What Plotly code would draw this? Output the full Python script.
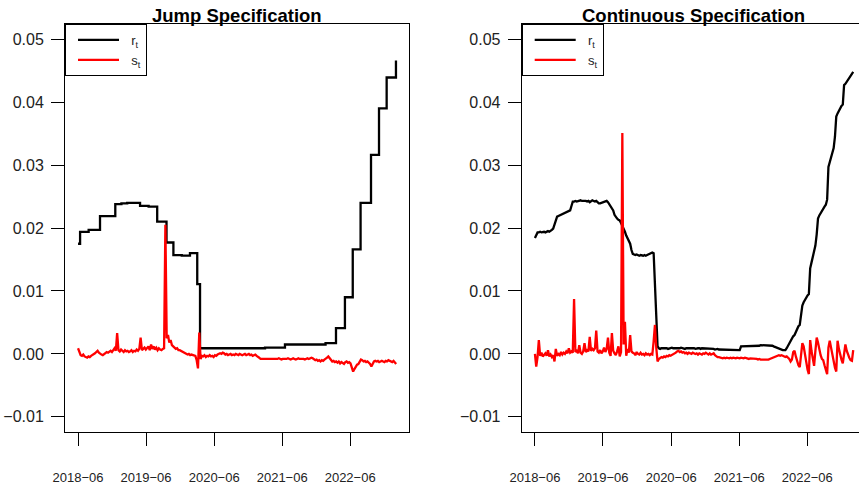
import plotly.graph_objects as go
import pandas as pd

# ---------------- data ----------------
tick_dates = ["2018-06-01", "2019-06-01", "2020-06-01", "2021-06-01", "2022-06-01"]
tick_text = ["2018\u221206", "2019\u221206", "2020\u221206", "2021\u221206", "2022\u221206"]
y_ticks = [-0.01, 0.0, 0.01, 0.02, 0.03, 0.04, 0.05]
y_tick_text = ["\u22120.01", "0.00", "0.01", "0.02", "0.03", "0.04", "0.05"]
series_names = ["r<sub>t</sub>", "s<sub>t</sub>"]

# weekly observation grid (start date, number of weeks)
week_start = "2018-06-01"
n_weeks = 245

# Jump specification: r_t (step function, change dates)
jump_r_dates = ["2018-06-01", "2018-06-12", "2018-07-28", "2018-09-27", "2018-12-18",
                "2019-01-20", "2019-02-20", "2019-03-25", "2019-04-30", "2019-06-15",
                "2019-07-31", "2019-09-19", "2019-10-26", "2019-12-10", "2020-01-23",
                "2020-03-02", "2020-03-17", "2020-09-01", "2021-03-01", "2021-06-16",
                "2021-12-01", "2022-01-20", "2022-03-17", "2022-05-04", "2022-06-15",
                "2022-07-27", "2022-09-21", "2022-11-03", "2022-12-14", "2023-02-02"]
jump_r = [0.0175, 0.0194, 0.0197, 0.0219, 0.0238,
          0.0239, 0.0240, 0.0240, 0.0235, 0.0234,
          0.0210, 0.0177, 0.0157, 0.0156, 0.0160,
          0.0111, 0.0009, 0.0009, 0.0010, 0.0015,
          0.0015, 0.0017, 0.0041, 0.0090, 0.0166,
          0.0240, 0.0316, 0.0390, 0.0439, 0.0466]

# Jump specification: s_t (weekly)
jump_s = [
    0.0009, 0.0002, -0.0002, -0.0003, -0.0001, -0.0004, -0.0005, -0.0006, -0.0004, -0.0005,
    -0.0003, -0.0002, -0.0001, 0.0001, 0.0003, 0.0005, 0.0002, 0.0000, -0.0001, -0.0002,
    0.0000, 0.0001, 0.0003, 0.0002, 0.0004, 0.0005, 0.0003, 0.0006, 0.0009, 0.0005,
    0.0033, 0.0006, 0.0004, 0.0007, 0.0005, 0.0003, 0.0006, 0.0004, 0.0005, 0.0003,
    0.0004, 0.0006, 0.0003, 0.0005, 0.0004, 0.0007, 0.0005, 0.0008, 0.0026, 0.0006,
    0.0008, 0.0010, 0.0007, 0.0009, 0.0012, 0.0006, 0.0015, 0.0008, 0.0012, 0.0007,
    0.0010, 0.0006, 0.0009, 0.0007, 0.0006, 0.0008, 0.0009, 0.0205, 0.0025, 0.0030,
    0.0018, 0.0022, 0.0014, 0.0012, 0.0010, 0.0008, 0.0009, 0.0006, 0.0006, 0.0005,
    0.0003, 0.0002, 0.0001, 0.0000, -0.0001, 0.0000, -0.0002, -0.0001, -0.0002, -0.0002,
    -0.0003, -0.0010, -0.0023, 0.0034, -0.0008, -0.0003, -0.0004, -0.0002, -0.0005, -0.0003,
    -0.0004, -0.0002, -0.0004, -0.0003, -0.0005, -0.0002, -0.0003, -0.0001, 0.0000, 0.0001,
    0.0000, 0.0002, 0.0001, -0.0001, 0.0000, -0.0002, -0.0001, 0.0000, -0.0002, -0.0001,
    -0.0002, 0.0000, -0.0001, -0.0002, 0.0000, -0.0001, -0.0002, -0.0001, 0.0000, -0.0002,
    -0.0001, 0.0000, -0.0002, -0.0001, -0.0003, -0.0002, -0.0001, -0.0003, -0.0004, -0.0006,
    -0.0008, -0.0008, -0.0009, -0.0008, -0.0009, -0.0008, -0.0009, -0.0008, -0.0008, -0.0009,
    -0.0008, -0.0009, -0.0008, -0.0008, -0.0007, -0.0008, -0.0009, -0.0008, -0.0008, -0.0009,
    -0.0008, -0.0007, -0.0008, -0.0009, -0.0008, -0.0007, -0.0008, -0.0009, -0.0008, -0.0007,
    -0.0008, -0.0008, -0.0007, -0.0008, -0.0009, -0.0008, -0.0007, -0.0008, -0.0007, -0.0006,
    -0.0007, -0.0009, -0.0010, -0.0009, -0.0011, -0.0010, -0.0012, -0.0010, -0.0011, -0.0009,
    -0.0008, -0.0006, -0.0004, -0.0007, -0.0010, -0.0012, -0.0011, -0.0013, -0.0012, -0.0014,
    -0.0012, -0.0015, -0.0013, -0.0014, -0.0016, -0.0013, -0.0012, -0.0014, -0.0013, -0.0015,
    -0.0022, -0.0028, -0.0024, -0.0020, -0.0017, -0.0016, -0.0012, -0.0009, -0.0010, -0.0012,
    -0.0011, -0.0013, -0.0012, -0.0014, -0.0016, -0.0020, -0.0015, -0.0012, -0.0011, -0.0012,
    -0.0011, -0.0013, -0.0012, -0.0011, -0.0012, -0.0013, -0.0011, -0.0012, -0.0010, -0.0011,
    -0.0012, -0.0013, -0.0011, -0.0014, -0.0016]

# Continuous specification: r_t (weekly)
cont_r = [
    0.0184, 0.0190, 0.0193, 0.0193, 0.0194, 0.0193, 0.0194, 0.0194, 0.0193, 0.0194,
    0.0195, 0.0194, 0.0195, 0.0197, 0.0199, 0.0205, 0.0212, 0.0218, 0.0219, 0.0220,
    0.0221, 0.0222, 0.0223, 0.0224, 0.0225, 0.0226, 0.0227, 0.0228, 0.0235, 0.0242,
    0.0242, 0.0243, 0.0242, 0.0243, 0.0243, 0.0244, 0.0243, 0.0243, 0.0244, 0.0243,
    0.0242, 0.0243, 0.0241, 0.0242, 0.0244, 0.0243, 0.0242, 0.0243, 0.0241, 0.0239,
    0.0239, 0.0240, 0.0241, 0.0242, 0.0242, 0.0243, 0.0241, 0.0238, 0.0236, 0.0233,
    0.0228, 0.0221, 0.0217, 0.0215, 0.0213, 0.0212, 0.0208, 0.0204, 0.0200, 0.0194,
    0.0188, 0.0183, 0.0179, 0.0175, 0.0165, 0.0159, 0.0158, 0.0157, 0.0158, 0.0157,
    0.0156, 0.0157, 0.0156, 0.0156, 0.0157, 0.0156, 0.0157, 0.0158, 0.0159, 0.0160,
    0.0161, 0.0160, 0.0115, 0.0060, 0.0012, 0.0009, 0.0008, 0.0009, 0.0009, 0.0010,
    0.0009, 0.0009, 0.0008, 0.0009, 0.0009, 0.0010, 0.0009, 0.0009, 0.0008, 0.0009,
    0.0009, 0.0009, 0.0010, 0.0009, 0.0009, 0.0008, 0.0009, 0.0009, 0.0009, 0.0010,
    0.0009, 0.0009, 0.0009, 0.0008, 0.0009, 0.0009, 0.0009, 0.0008, 0.0009, 0.0009,
    0.0008, 0.0009, 0.0008, 0.0008, 0.0009, 0.0008, 0.0008, 0.0008, 0.0007, 0.0008,
    0.0008, 0.0007, 0.0007, 0.0007, 0.0006, 0.0007, 0.0007, 0.0006, 0.0006, 0.0007,
    0.0006, 0.0006, 0.0007, 0.0006, 0.0006, 0.0006, 0.0007, 0.0006, 0.0012, 0.0012,
    0.0012, 0.0012, 0.0013, 0.0012, 0.0012, 0.0013, 0.0013, 0.0012, 0.0013, 0.0013,
    0.0013, 0.0013, 0.0013, 0.0014, 0.0014, 0.0014, 0.0014, 0.0014, 0.0014, 0.0014,
    0.0014, 0.0014, 0.0013, 0.0012, 0.0011, 0.0010, 0.0009, 0.0008, 0.0007, 0.0007,
    0.0006, 0.0006, 0.0006, 0.0009, 0.0013, 0.0017, 0.0022, 0.0026, 0.0028, 0.0030,
    0.0035, 0.0040, 0.0044, 0.0046, 0.0060, 0.0077, 0.0082, 0.0086, 0.0090, 0.0093,
    0.0095, 0.0136, 0.0145, 0.0155, 0.0163, 0.0172, 0.0190, 0.0215, 0.0220, 0.0224,
    0.0228, 0.0231, 0.0234, 0.0237, 0.0245, 0.0297, 0.0305, 0.0313, 0.0320, 0.0327,
    0.0345, 0.0377, 0.0382, 0.0387, 0.0391, 0.0394, 0.0396, 0.0427, 0.0429, 0.0432,
    0.0435, 0.0438, 0.0442, 0.0446, 0.0448]

# Continuous specification: s_t (weekly)
cont_s = [
    0.0000, -0.0020, -0.0005, 0.0022, -0.0003, 0.0002, -0.0004, -0.0002, 0.0001, -0.0003,
    0.0006, -0.0004, -0.0001, -0.0005, -0.0002, -0.0012, 0.0008, -0.0003, 0.0000, -0.0002,
    0.0003, -0.0001, 0.0002, 0.0000, 0.0004, 0.0001, 0.0009, 0.0002, 0.0004, 0.0002,
    0.0087, 0.0003, 0.0005, 0.0001, 0.0014, 0.0002, 0.0000, 0.0004, 0.0017, 0.0003,
    0.0006, 0.0004, 0.0027, 0.0005, 0.0008, 0.0006, 0.0009, 0.0037, 0.0004, 0.0002,
    0.0006, 0.0001, 0.0004, 0.0010, 0.0003, 0.0008, 0.0026, 0.0002, -0.0003, 0.0033,
    0.0005, 0.0001, -0.0002, 0.0004, 0.0012, -0.0004, 0.0003, 0.0351, 0.0015, 0.0051,
    -0.0003, 0.0008, 0.0002, 0.0030, 0.0004, 0.0002, 0.0001, -0.0002, 0.0003, 0.0000,
    -0.0001, 0.0002, -0.0001, 0.0000, -0.0002, 0.0001, -0.0001, 0.0000, -0.0002, 0.0000,
    -0.0001, 0.0020, 0.0046, 0.0010, -0.0012, -0.0008, -0.0006, -0.0005, -0.0006, -0.0004,
    -0.0005, -0.0003, -0.0004, -0.0002, -0.0003, -0.0002, -0.0001, 0.0001, 0.0002, 0.0004,
    0.0005, 0.0003, 0.0004, 0.0002, 0.0003, 0.0001, 0.0002, 0.0000, 0.0002, 0.0001,
    0.0000, 0.0002, 0.0001, 0.0000, 0.0001, -0.0001, 0.0001, 0.0000, -0.0001, 0.0001,
    0.0000, 0.0002, 0.0000, -0.0001, 0.0001, -0.0001, 0.0000, 0.0001, -0.0002, -0.0004,
    -0.0005, -0.0005, -0.0006, -0.0006, -0.0007, -0.0006, -0.0007, -0.0006, -0.0007, -0.0007,
    -0.0006, -0.0007, -0.0006, -0.0007, -0.0007, -0.0006, -0.0007, -0.0007, -0.0006, -0.0007,
    -0.0007, -0.0006, -0.0007, -0.0007, -0.0008, -0.0007, -0.0007, -0.0008, -0.0007, -0.0008,
    -0.0008, -0.0009, -0.0008, -0.0009, -0.0009, -0.0010, -0.0010, -0.0009, -0.0010, -0.0009,
    -0.0008, -0.0007, -0.0006, -0.0005, -0.0004, -0.0004, -0.0003, -0.0002, -0.0003, -0.0002,
    -0.0003, -0.0004, -0.0005, -0.0004, -0.0006, -0.0008, -0.0012, -0.0009, 0.0003, 0.0005,
    -0.0004, -0.0012, -0.0018, -0.0021, 0.0002, 0.0017, 0.0012, -0.0002, -0.0014, -0.0025,
    -0.0032, 0.0022, 0.0005, -0.0008, -0.0019, 0.0005, 0.0026, 0.0018, 0.0006, -0.0002,
    -0.0008, -0.0010, -0.0018, -0.0026, -0.0032, 0.0010, 0.0021, 0.0010, -0.0003, -0.0012,
    -0.0022, -0.0028, 0.0021, 0.0008, -0.0002, -0.0009, -0.0015, 0.0000, 0.0015, 0.0005,
    -0.0002, -0.0006, -0.0010, -0.0011, 0.0006]

weeks = pd.date_range(week_start, periods=n_weeks, freq="7D")

# ---------------- figure ----------------
W, H = 859, 486
FONT = "Liberation Sans, Arial, Helvetica, sans-serif"
BLACK = "#000000"
RED = "#ff0000"
LW = 2.3
PAD = "\u00a0\u00a0"

fig = go.Figure()
fig.add_trace(go.Scatter(x=jump_r_dates, y=jump_r, mode="lines", line=dict(color=BLACK, width=LW, shape="hv"),
                         name=PAD + series_names[0], xaxis="x", yaxis="y", legend="legend"))
fig.add_trace(go.Scatter(x=weeks, y=jump_s, mode="lines", line=dict(color=RED, width=LW),
                         name=PAD + series_names[1], xaxis="x", yaxis="y", legend="legend"))
fig.add_trace(go.Scatter(x=weeks, y=cont_r, mode="lines", line=dict(color=BLACK, width=LW),
                         name=PAD + series_names[0], xaxis="x2", yaxis="y2", legend="legend2"))
fig.add_trace(go.Scatter(x=weeks, y=cont_s, mode="lines", line=dict(color=RED, width=LW),
                         name=PAD + series_names[1], xaxis="x2", yaxis="y2", legend="legend2"))

ydom = [54 / H, 462 / H]
yrange = [-0.0124, 0.0524]

def xax(domain, rng, anchor):
    return dict(domain=domain, range=rng, anchor=anchor, type="date", automargin=False,
                tickvals=tick_dates, ticktext=tick_text, ticks="outside", ticklen=13,
                tickwidth=1, tickcolor=BLACK, showline=True, linecolor=BLACK, linewidth=1,
                mirror=True, showgrid=False, zeroline=False,
                tickfont=dict(family=FONT, size=13, color="#222222"), ticklabelstandoff=20)

def yax(domain, anchor, mirror):
    return dict(domain=domain, range=yrange, anchor=anchor, automargin=False,
                tickvals=y_ticks, ticktext=y_tick_text, ticks="outside", ticklen=13,
                tickwidth=1, tickcolor=BLACK, showline=True, linecolor=BLACK, linewidth=1,
                mirror=mirror, showgrid=False, zeroline=False,
                tickfont=dict(family=FONT, size=16, color="#222222"), ticklabelstandoff=4)

def leg(xpos):
    return dict(x=xpos, y=462 / H, xanchor="left", yanchor="top", bgcolor="white",
                bordercolor=BLACK, borderwidth=1, itemwidth=41, indentation=7,
                entrywidth=72, entrywidthmode="pixels",
                font=dict(family=FONT, size=13, color="#222222"), tracegroupgap=0)

fig.update_layout(
    width=W, height=H, margin=dict(l=0, r=0, t=0, b=0, autoexpand=False),
    paper_bgcolor="white", plot_bgcolor="white",
    font=dict(family=FONT, color=BLACK),
    xaxis=xax([65 / W, 409 / W], ["2018-03-23", "2023-04-13"], "y"),
    yaxis=yax(ydom, "x", True),
    xaxis2=xax([521.7 / W, 1.0], ["2018-03-22", "2023-03-06"], "y2"),
    yaxis2=yax(ydom, "x2", False),
    legend=leg(65 / W),
    legend2=leg(521.7 / W),
    showlegend=True,
    annotations=[
        dict(text="<b>Jump Specification</b>", x=237 / W, y=462 / H, xref="paper", yref="paper",
             xanchor="center", yanchor="bottom", showarrow=False, yshift=-4,
             font=dict(family=FONT, size=18.5, color=BLACK)),
        dict(text="<b>Continuous Specification</b>", x=693.7 / W, y=462 / H, xref="paper", yref="paper",
             xanchor="center", yanchor="bottom", showarrow=False, yshift=-4,
             font=dict(family=FONT, size=18.5, color=BLACK)),
    ],
)

fig.write_html("out.html")
